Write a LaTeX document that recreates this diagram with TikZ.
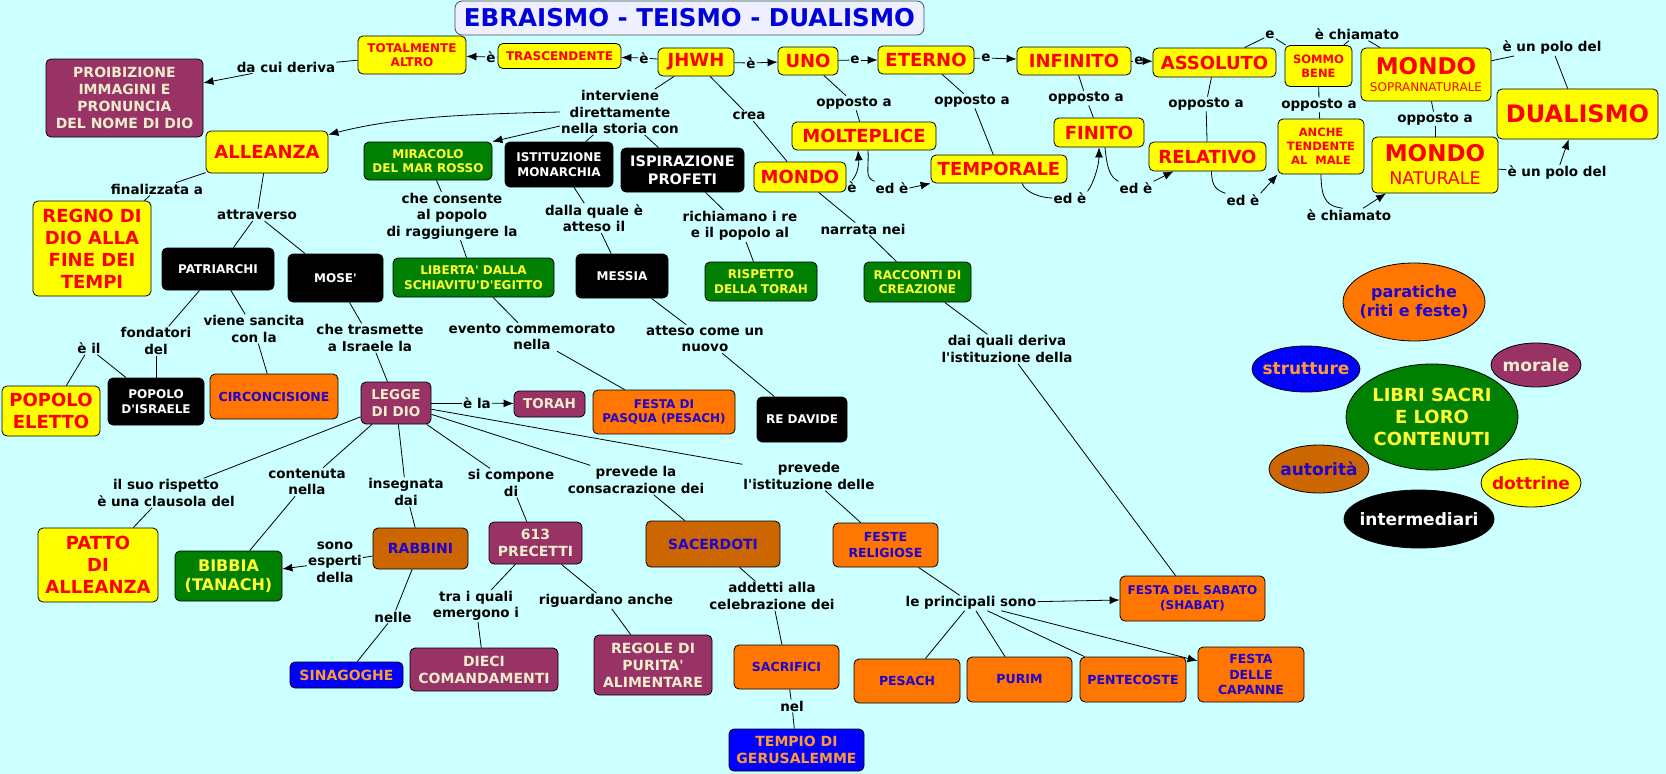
\documentclass[tikz,border=0pt]{standalone}
\usepackage{fontspec}
\newfontfamily\dejavu{DejaVu Sans}
\usepackage{xcolor}
\usepackage{tikz}
\usetikzlibrary{arrows.meta, shapes.geometric}

\definecolor{cSfondo}{HTML}{CCFFFF}
\definecolor{cGiallo}{HTML}{FFFF00}
\definecolor{cRosso}{HTML}{FF0000}
\definecolor{cViola}{HTML}{993366}
\definecolor{cCrema}{HTML}{EEEECC}
\definecolor{cVerde}{HTML}{008000}
\definecolor{cGialloTesto}{HTML}{FFFF33}
\definecolor{cArancio}{HTML}{FF7700}
\definecolor{cIndaco}{HTML}{2200CC}
\definecolor{cMarrone}{HTML}{CC6600}
\definecolor{cBlu}{HTML}{0000FF}
\definecolor{cOro}{HTML}{FF9933}
\definecolor{cTitoloFondo}{HTML}{EEF0FF}
\definecolor{cTitoloTesto}{HTML}{0000DD}

\begin{document}
\begin{tikzpicture}[
        x=1pt, y=-1pt,
        >={Latex[length=10pt,width=8pt]},
        fs/.style={
            font=\pgfmathsetmacro\interlinea{1.22*#1}\dejavu\fontsize{#1}{\interlinea}\selectfont\bfseries
        },
        taglia/.style 2 args={
            minimum width=#1pt,
            minimum height=#2pt
        },
        box/.style={
            draw=black,
            line width=0.8pt,
            rounded corners=5pt,
            align=center,
            inner sep=1pt
        },
        giallo/.style={box, fill=cGiallo, text=cRosso},
        viola/.style={box, fill=cViola, text=cCrema},
        verde/.style={box, fill=cVerde, text=cGialloTesto},
        nero/.style={box, fill=black, text=white},
        arancio/.style={box, fill=cArancio, text=cIndaco},
        marrone/.style={box, fill=cMarrone, text=cIndaco},
        blu/.style={box, fill=cBlu, text=cOro},
        bolla/.style={
            ellipse,
            draw=black,
            line width=0.8pt,
            align=center,
            inner xsep=-8pt,
            inner ysep=0pt
        },
        legame/.style={
            fs=13.5,
            inner sep=1pt,
            align=center
        },
        linea/.style={
            line width=0.8pt
        },
        freccia/.style={
            ->,
            line width=0.8pt
        }
    ]

    \fill[cSfondo] (0,0) rectangle (1666,774);
    \useasboundingbox (0,0) rectangle (1666,774);

    \node[box, draw=black!70, fill=cTitoloFondo, text=cTitoloTesto, rounded corners=7pt, fs=24.5, taglia={469}{34}] (titolo) at (689.5,18) {EBRAISMO - TEISMO - DUALISMO};

    \node[viola, fs=14, taglia={157}{78}] (proibizione) at (124.5,98) {PROIBIZIONE\\IMMAGINI E\\PRONUNCIA\\DEL NOME DI DIO};
    \node[giallo, fs=12, taglia={108}{38}] (totalmente) at (412,55) {TOTALMENTE\\ALTRO};
    \node[giallo, fs=12, taglia={123}{25}] (trascendente) at (559.5,56) {TRASCENDENTE};
    \node[giallo, fs=18, taglia={76}{28}] (jhwh) at (696,62) {JHWH};
    \node[giallo, fs=18, taglia={60}{28}] (uno) at (808,61) {UNO};
    \node[giallo, fs=18, taglia={96}{28}] (eterno) at (926,60) {ETERNO};
    \node[giallo, fs=18, taglia={114}{28}] (infinito) at (1074,61) {INFINITO};
    \node[giallo, fs=18, taglia={123}{29}] (assoluto) at (1214.5,62.5) {ASSOLUTO};
    \node[giallo, fs=11.5, taglia={67}{41}] (sommo) at (1318.5,66) {SOMMO\\BENE};
    \node[giallo, fs=23, taglia={130}{53}] (mondoSopra) at (1426,74.5) {MONDO\\[-11pt]{\fontsize{12}{14}\selectfont\mdseries SOPRANNATURALE}};
    \node[giallo, fs=24, taglia={161}{50}] (dualismo) at (1577.5,114) {DUALISMO};
    \node[giallo, fs=23, taglia={126}{56}] (mondoNat) at (1435,165) {MONDO\\[-5pt]{\fontsize{17.5}{20}\selectfont\mdseries NATURALE}};
    \node[giallo, fs=18, taglia={144}{28}] (molteplice) at (864,136) {MOLTEPLICE};
    \node[giallo, fs=18, taglia={92}{30}] (mondo) at (800,177) {MONDO};
    \node[giallo, fs=18, taglia={136}{28}] (temporale) at (999,169) {TEMPORALE};
    \node[giallo, fs=18, taglia={90}{29}] (finito) at (1099,132.5) {FINITO};
    \node[giallo, fs=18, taglia={117}{29}] (relativo) at (1207.5,156.5) {RELATIVO};
    \node[giallo, fs=11.5, taglia={86}{55}] (anche) at (1321,146.5) {ANCHE\\TENDENTE\\AL\ \ MALE};
    \node[giallo, fs=18, taglia={122}{42}] (alleanza) at (267,152) {ALLEANZA};
    \node[verde, fs=12, taglia={128}{38}] (miracolo) at (428,161) {MIRACOLO\\DEL MAR ROSSO};
    \node[nero, fs=12, taglia={108}{45}] (istituzione) at (559,164.5) {ISTITUZIONE\\MONARCHIA};
    \node[nero, fs=14.5, taglia={123}{44}] (ispirazione) at (682.5,170) {ISPIRAZIONE\\PROFETI};
    \node[giallo, fs=18, taglia={118}{95}] (regno) at (92,248.5) {REGNO DI\\DIO ALLA\\FINE DEI\\TEMPI};
    \node[nero, fs=12, taglia={112}{42}] (patriarchi) at (218,269) {PATRIARCHI};
    \node[nero, fs=12, taglia={95}{48}] (mose) at (335.5,278) {MOSE'};
    \node[verde, fs=12, taglia={161}{39}] (liberta) at (473.5,277.5) {LIBERTA' DALLA\\SCHIAVITU'D'EGITTO};
    \node[nero, fs=12, taglia={92}{44}] (messia) at (622,276) {MESSIA};
    \node[verde, fs=12, taglia={112}{39}] (rispetto) at (761,281.5) {RISPETTO\\DELLA TORAH};
    \node[verde, fs=12, taglia={107}{40}] (racconti) at (917.5,282) {RACCONTI DI\\CREAZIONE};
    \node[giallo, fs=18, taglia={98}{50}] (popEletto) at (51,411) {POPOLO\\ELETTO};
    \node[nero, fs=12, taglia={96}{47}] (popIsraele) at (156,401.5) {POPOLO\\D'ISRAELE};
    \node[arancio, fs=12.5, taglia={128}{45}] (circoncisione) at (274,396.5) {CIRCONCISIONE};
    \node[viola, fs=13.5, taglia={70}{42}] (legge) at (396,403) {LEGGE\\DI DIO};
    \node[viola, fs=13.5, taglia={71}{26}] (torah) at (549.5,404) {TORAH};
    \node[arancio, fs=12, taglia={142}{44}] (pasqua) at (664,412) {FESTA DI\\PASQUA (PESACH)};
    \node[nero, fs=12, taglia={90}{45}] (reDavide) at (802,419.5) {RE DAVIDE};
    \node[giallo, fs=18, taglia={120}{74}] (patto) at (98,565) {PATTO\\DI\\ALLEANZA};
    \node[verde, fs=16, taglia={107}{50}] (bibbia) at (228.5,576) {BIBBIA\\(TANACH)};
    \node[marrone, fs=14, taglia={95}{41}] (rabbini) at (420.5,548.5) {RABBINI};
    \node[viola, fs=14, taglia={93}{42}] (precetti) at (535.5,543) {613\\PRECETTI};
    \node[marrone, fs=14, taglia={134}{46}] (sacerdoti) at (713,544) {SACERDOTI};
    \node[arancio, fs=12.5, taglia={105}{44}] (feste) at (885.5,545) {FESTE\\RELIGIOSE};
    \node[arancio, fs=12, taglia={145}{45}] (sabato) at (1192.5,598.5) {FESTA DEL SABATO\\(SHABAT)};
    \node[blu, fs=14, taglia={113}{26}] (sinagoghe) at (346.5,675) {SINAGOGHE};
    \node[viola, fs=14, taglia={148}{43}] (dieci) at (484,669.5) {DIECI\\COMANDAMENTI};
    \node[viola, fs=14, taglia={118}{60}] (regole) at (653,665) {REGOLE DI\\PURITA'\\ALIMENTARE};
    \node[arancio, fs=12.5, taglia={105}{44}] (sacrifici) at (786.5,667) {SACRIFICI};
    \node[blu, fs=14, taglia={135}{42}] (tempio) at (796.5,750) {TEMPIO DI\\GERUSALEMME};
    \node[arancio, fs=12.5, taglia={106}{44}] (pesach) at (907,681) {PESACH};
    \node[arancio, fs=12.5, taglia={105}{45}] (purim) at (1019.5,679.5) {PURIM};
    \node[arancio, fs=12.5, taglia={106}{45}] (pentecoste) at (1133,679.5) {PENTECOSTE};
    \node[arancio, fs=12.5, taglia={106}{55}] (capanne) at (1251,674.5) {FESTA\\DELLE\\CAPANNE};

    \node[bolla, fill=cArancio, text=cIndaco, fs=16, taglia={142}{78}] (pratiche) at (1414,302) {paratiche\\(riti e feste)};
    \node[bolla, fill=cBlu, text=cOro, fs=17, taglia={108}{46}] (strutture) at (1306,369) {strutture};
    \node[bolla, fill=cViola, text=cCrema, fs=17, taglia={90}{44}] (morale) at (1536,365) {morale};
    \node[bolla, fill=cVerde, text=cGialloTesto, fs=18, taglia={172}{106}] (libri) at (1432,417) {LIBRI SACRI\\E LORO\\CONTENUTI};
    \node[bolla, fill=cMarrone, text=cIndaco, fs=17, taglia={100}{48}] (autorita) at (1319,469) {autorità};
    \node[bolla, fill=cGiallo, text=cRosso, fs=17, taglia={100}{48}] (dottrine) at (1531,483) {dottrine};
    \node[bolla, fill=black, text=white, fs=17, taglia={150}{58}] (intermediari) at (1419,519) {intermediari};

    \node[legame] (eAltro) at (491,57) {è};
    \node[legame] (eTrasc) at (644,58) {è};
    \node[legame] (eUno) at (751,63) {è};
    \node[legame] (eEterno) at (855,60) {e};
    \node[legame] (eInfinito) at (986,58) {e};
    \node[legame] (eAssoluto) at (1139,61) {e};
    \node[legame] (eSommo) at (1270,35) {e};
    \node[legame] (chiamatoSopra) at (1357,34) {è chiamato};
    \node[legame] (poloSopra) at (1552,48) {è un polo del};
    \node[legame] (poloSotto) at (1557,173) {è un polo del};
    \node[legame] (daCui) at (286,67) {da cui deriva};
    \node[legame] (oppUno) at (854,103) {opposto a};
    \node[legame] (oppEterno) at (972,101) {opposto a};
    \node[legame] (oppInfinito) at (1086,98) {opposto a};
    \node[legame] (oppAssoluto) at (1206,104) {opposto a};
    \node[legame] (oppSommo) at (1319,105) {opposto a};
    \node[legame] (oppSopra) at (1435,119) {opposto a};
    \node[legame] (eMolteplice) at (852,187) {è};
    \node[legame] (edTemporale) at (892,188) {ed è};
    \node[legame] (edFinito) at (1070,198) {ed è};
    \node[legame] (edRelativo) at (1136,188) {ed è};
    \node[legame] (edAnche) at (1243,200) {ed è};
    \node[legame] (chiamatoSotto) at (1349,215) {è chiamato};
    \node[legame] (interviene) at (620,112) {interviene\\direttamente\\nella storia con};
    \node[legame] (crea) at (749,116) {crea};
    \node[legame] (finalizzata) at (157,189) {finalizzata a};
    \node[legame] (attraverso) at (257,215) {attraverso};
    \node[legame] (consente) at (452,216) {che consente\\al popolo\\di raggiungere la};
    \node[legame] (dallaQuale) at (594,218) {dalla quale è\\atteso il};
    \node[legame] (richiamano) at (740,226) {richiamano i re\\e il popolo al};
    \node[legame] (narrata) at (863,229) {narrata nei};
    \node[legame] (fondatori) at (156,341) {fondatori\\del};
    \node[legame] (sancita) at (254,329) {viene sancita\\con la};
    \node[legame] (eIl) at (89,348) {è il};
    \node[legame] (trasmette) at (370,338) {che trasmette\\a Israele la};
    \node[legame] (evento) at (532,337) {evento commemorato\\nella};
    \node[legame] (atteso) at (705,339) {atteso come un\\nuovo};
    \node[legame] (daiQuali) at (1007,349) {dai quali deriva\\l'istituzione della};
    \node[legame] (eLa) at (477,403) {è la};
    \node[legame] (clausola) at (166,493) {il suo rispetto\\è una clausola del};
    \node[legame] (contenuta) at (307,482) {contenuta\\nella};
    \node[legame] (insegnata) at (406,492) {insegnata\\dai};
    \node[legame] (compone) at (511,483) {si compone\\di};
    \node[legame] (consacrazione) at (636,480) {prevede la\\consacrazione dei};
    \node[legame] (istituzioneDelle) at (809,476) {prevede\\l'istituzione delle};
    \node[legame] (esperti) at (335,562) {sono\\esperti\\della};
    \node[legame] (nelle) at (393,617) {nelle};
    \node[legame] (emergono) at (476,606) {tra i quali\\emergono i};
    \node[legame] (riguardano) at (606,601) {riguardano anche};
    \node[legame] (addetti) at (772,596) {addetti alla\\celebrazione dei};
    \node[legame] (nel) at (792,706) {nel};
    \node[legame] (principali) at (971,603) {le principali sono};

    \draw[linea] (trascendente) -- (eAltro);
    \draw[freccia] (eAltro) -- (totalmente);
    \draw[linea] (jhwh) -- (eTrasc);
    \draw[freccia] (eTrasc) -- (trascendente);
    \draw[linea] (jhwh) -- (eUno);
    \draw[freccia] (eUno) -- (uno);
    \draw[linea] (uno) -- (eEterno);
    \draw[freccia] (eEterno) -- (eterno);
    \draw[linea] (eterno) -- (eInfinito);
    \draw[freccia] (eInfinito) -- (infinito);
    \draw[linea] (infinito) -- (eAssoluto);
    \draw[freccia] (eAssoluto) -- (assoluto);
    \draw[linea] (assoluto) -- (eSommo);
    \draw[linea] (eSommo) -- (sommo);
    \draw[linea] (sommo) -- (chiamatoSopra);
    \draw[linea] (chiamatoSopra) -- (mondoSopra);
    \draw[linea] (mondoSopra) -- (poloSopra);
    \draw[linea] (poloSopra) -- (dualismo);
    \draw[linea] (mondoNat) -- (poloSotto);
    \draw[freccia] (poloSotto) -- (dualismo);
    \draw[linea] (totalmente) -- (daCui);
    \draw[freccia] (daCui) -- (proibizione);

    \draw[linea] (uno) -- (oppUno);
    \draw[linea] (oppUno) -- (molteplice);
    \draw[linea] (eterno) -- (oppEterno);
    \draw[linea] (oppEterno) -- (temporale);
    \draw[linea] (infinito) -- (oppInfinito);
    \draw[linea] (oppInfinito) -- (finito);
    \draw[linea] (assoluto) -- (oppAssoluto);
    \draw[linea] (oppAssoluto) -- (relativo);
    \draw[linea] (sommo) -- (oppSommo);
    \draw[linea] (oppSommo) -- (anche);
    \draw[linea] (mondoSopra) -- (oppSopra);
    \draw[linea] (oppSopra) -- (mondoNat);

    \draw[linea] (mondo) -- (eMolteplice);
    \draw[freccia] (eMolteplice.north) .. controls +(6,-6) and +(1,12) .. ([xshift=-6pt]molteplice.south);
    \draw[linea] ([xshift=4pt]molteplice.south) .. controls +(1,20) and +(-10,-4) .. (edTemporale.north west);
    \draw[freccia] (edTemporale.east) -- (temporale.south west);
    \draw[linea] ([xshift=23pt]temporale.south) .. controls +(4,10) and +(-10,0) .. (edFinito.west);
    \draw[freccia] (edFinito.north east) .. controls +(6,-8) and +(0,18) .. (finito.south);
    \draw[linea] ([xshift=6pt]finito.south) .. controls +(2,22) and +(-8,-4) .. (edRelativo.north west);
    \draw[freccia] (edRelativo.north east) -- ([xshift=-34pt]relativo.south);
    \draw[linea] ([xshift=4pt]relativo.south) .. controls +(0,16) and +(-8,-3) .. (edAnche.north west);
    \draw[freccia] (edAnche.north east) -- (anche.south west);
    \draw[linea] (anche.south) .. controls +(0,28) and +(-14,-2) .. ([xshift=-6pt]chiamatoSotto.north);
    \draw[freccia] ([xshift=14pt]chiamatoSotto.north) -- ([xshift=-49pt]mondoNat.south);

    \draw[linea] (jhwh) -- (interviene);
    \draw[freccia] (interviene.west) .. controls +(-90,2) and +(70,-18) .. ([yshift=-4pt]alleanza.north east);
    \draw[freccia] ([yshift=-14pt]interviene.west) -- (miracolo.north east);
    \draw[linea] (interviene) -- (istituzione);
    \draw[linea] (interviene) -- (ispirazione);
    \draw[linea] (jhwh) -- (crea);
    \draw[linea] (crea) -- (mondo);
    \draw[linea] (mondo) -- (narrata);
    \draw[linea] (narrata) -- (racconti);

    \draw[linea] (alleanza) -- (finalizzata);
    \draw[linea] (finalizzata) -- (regno);
    \draw[linea] (alleanza) -- (attraverso);
    \draw[linea] (attraverso) -- (patriarchi);
    \draw[linea] (attraverso) -- (mose);
    \draw[linea] (miracolo) -- (consente);
    \draw[linea] (consente) -- (liberta);
    \draw[linea] (istituzione) -- (dallaQuale);
    \draw[linea] (dallaQuale) -- (messia);
    \draw[linea] (ispirazione) -- (richiamano);
    \draw[linea] (richiamano) -- (rispetto);

    \draw[linea] (patriarchi) -- (fondatori);
    \draw[linea] (fondatori) -- (popIsraele);
    \draw[linea] (patriarchi) -- (sancita);
    \draw[linea] (sancita) -- (circoncisione);
    \draw[linea] (popIsraele) -- (eIl);
    \draw[linea] (eIl) -- (popEletto);
    \draw[linea] (mose) -- (trasmette);
    \draw[linea] (trasmette) -- (legge);
    \draw[linea] (liberta) -- (evento);
    \draw[linea] (evento) -- (pasqua);
    \draw[linea] (messia) -- (atteso);
    \draw[linea] (atteso) -- (reDavide);
    \draw[linea] (racconti) -- (daiQuali);
    \draw[linea] (daiQuali) -- (sabato);

    \draw[linea] (legge) -- (eLa);
    \draw[freccia] (eLa) -- (torah);
    \draw[linea] (legge) -- (clausola);
    \draw[linea] (clausola) -- (patto);
    \draw[linea] (legge) -- (contenuta);
    \draw[linea] (contenuta) -- (bibbia);
    \draw[linea] (legge) -- (insegnata);
    \draw[linea] (insegnata) -- (rabbini);
    \draw[linea] (legge) -- (compone);
    \draw[linea] (compone) -- (precetti);
    \draw[linea] (legge) -- (consacrazione);
    \draw[linea] (consacrazione) -- (sacerdoti);
    \draw[linea] (legge) -- (istituzioneDelle);
    \draw[linea] (istituzioneDelle) -- (feste);

    \draw[linea] (rabbini) -- (esperti);
    \draw[freccia] (esperti) -- (bibbia);
    \draw[linea] (rabbini) -- (nelle);
    \draw[linea] (nelle) -- (sinagoghe);
    \draw[linea] (precetti) -- (emergono);
    \draw[linea] (emergono) -- (dieci);
    \draw[linea] (precetti) -- (riguardano);
    \draw[linea] (riguardano) -- (regole);
    \draw[linea] (sacerdoti) -- (addetti);
    \draw[linea] (addetti) -- (sacrifici);
    \draw[linea] (sacrifici) -- (nel);
    \draw[linea] (nel) -- (tempio);
    \draw[linea] (feste) -- (principali);
    \draw[freccia] (principali) -- (sabato);
    \draw[linea] (principali) -- (pesach);
    \draw[linea] (principali) -- (purim);
    \draw[linea] (principali) -- (pentecoste);
    \draw[freccia] (principali) -- (capanne);

    \end{tikzpicture}
\end{document}
